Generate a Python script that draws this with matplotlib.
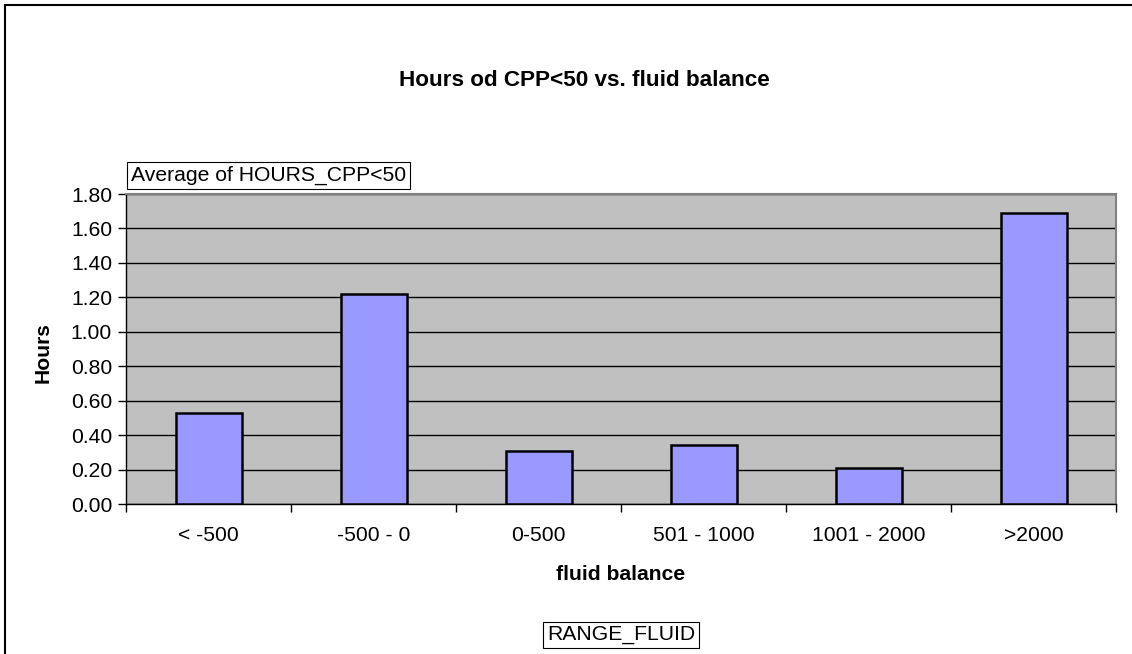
import matplotlib
matplotlib.use("Agg")
import matplotlib.pyplot as plt

categories = ["< -500", "-500 - 0", "0-500", "501 - 1000", "1001 - 2000", ">2000"]
hours = [0.53, 1.22, 0.31, 0.34, 0.21, 1.69]
yticks = [0.0, 0.2, 0.4, 0.6, 0.8, 1.0, 1.2, 1.4, 1.6, 1.8]

plt.rcParams['font.family'] = ['Liberation Sans', 'DejaVu Sans']

W, H = 1132, 654
FS = 15.2
fig = plt.figure(figsize=(W / 100, H / 100), dpi=100)
fig.patch.set_facecolor('white')

# outer chart frame (left and top visible)
fig.add_artist(plt.Line2D([5 / W, 5 / W], [0, 1 - 5 / H], transform=fig.transFigure, color='black', lw=1.5))
fig.add_artist(plt.Line2D([5 / W, 1], [1 - 5 / H, 1 - 5 / H], transform=fig.transFigure, color='black', lw=1.5))

left, right, top, bottom = 126, 1116, 194, 504
ax = fig.add_axes([left / W, 1 - bottom / H, (right - left) / W, (bottom - top) / H])
ax.set_facecolor('#C0C0C0')

x = list(range(len(categories)))
ax.bar(x, hours, width=0.4, color='#9999FF', edgecolor='black', linewidth=1.8, zorder=3)

ax.set_xlim(-0.5, len(categories) - 0.5)
ax.set_ylim(0, 1.8)
ax.set_yticks(yticks)
ax.set_yticklabels([f"{v:.2f}" for v in yticks], fontsize=FS)
ax.yaxis.grid(True, color='black', linewidth=1.0, zorder=1)
ax.set_axisbelow(True)

ax.set_xticks(x)
ax.set_xticklabels(categories, fontsize=FS)
ax.tick_params(axis='x', which='major', length=0, pad=16)
ax.set_xticks([i - 0.5 for i in range(len(categories) + 1)], minor=True)
ax.tick_params(axis='x', which='minor', length=6, width=1, color='black', direction='out')
ax.tick_params(axis='y', length=6, width=1, color='black', direction='out', pad=4)

for s in ['top', 'right']:
    ax.spines[s].set_color('#808080')
    ax.spines[s].set_linewidth(1.5)
for s in ['left', 'bottom']:
    ax.spines[s].set_color('black')
    ax.spines[s].set_linewidth(1.0)

fig.text(584 / W, 1 - 80 / H, "Hours od CPP<50 vs. fluid balance", ha='center', va='center',
         fontsize=16.2, fontweight='bold')
fig.text(43 / W, 1 - 353 / H, "Hours", ha='center', va='center', rotation=90,
         fontsize=FS, fontweight='bold')
fig.text(621 / W, 1 - 574 / H, "fluid balance", ha='center', va='center',
         fontsize=FS, fontweight='bold')

fig.text(131 / W, 1 - 175.5 / H, "Average of HOURS_CPP<50", ha='left', va='center', fontsize=FS,
         bbox=dict(boxstyle='square,pad=0.18', facecolor='white', edgecolor='black', linewidth=0.8))
fig.text(621 / W, 1 - 635 / H, "RANGE_FLUID", ha='center', va='center', fontsize=FS,
         bbox=dict(boxstyle='square,pad=0.18', facecolor='white', edgecolor='black', linewidth=0.8))

fig.savefig("out.png", dpi=100)
